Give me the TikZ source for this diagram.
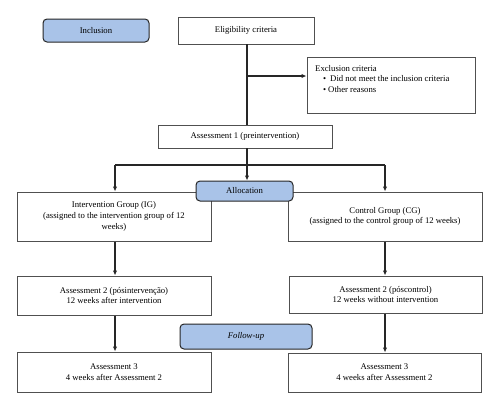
\documentclass[tikz,border=0pt]{standalone}
\usepackage{fontspec}
\setmainfont{Liberation Serif}
\usetikzlibrary{arrows.meta}
\definecolor{boxblue}{HTML}{A9C3E8}
\definecolor{edgegray}{HTML}{505050}
\definecolor{linegray}{HTML}{262626}
\begin{document}
\begin{tikzpicture}[x=1pt,y=-1pt,
  every node/.style={font=\fontsize{8.7}{10.7}\selectfont, inner sep=0pt},
  wbox/.style={draw=edgegray, line width=1pt, fill=white, rectangle, align=center},
  bbox/.style={draw=linegray, line width=1pt, fill=boxblue, rounded corners=4pt, align=center},
  conn/.style={draw=linegray, line width=1.1pt},
  arr/.style={conn, -{Latex[length=5pt,width=4.5pt]}}
]
\useasboundingbox (0,0) rectangle (500,410);

% boxes
\node[bbox, minimum width=106pt, minimum height=23pt] (incl) at (96,30.5) {Inclusion};
\node[wbox, minimum width=136pt, minimum height=27pt] (elig) at (246,30.5) {Eligibility criteria};
\node[wbox, minimum width=168pt, minimum height=56pt] (excl) at (391,85) {};
\node[anchor=north west, align=left] (excltext) at (315,65.5)
  {Exclusion criteria\\[-0.5pt]
   \hspace{8pt}\textbullet\hspace{4pt}Did not meet the inclusion criteria\\[-0.5pt]
   \hspace{8pt}\textbullet\hspace{2pt}Other reasons};
\node[wbox, minimum width=174pt, minimum height=23pt] (ass1) at (245,136.5) {Assessment 1 (preintervention)};

\node[wbox, minimum width=194pt, minimum height=49pt] (ig) at (114,216.5)
  {Intervention Group (IG)\\(assigned to the intervention group of 12\\weeks)};
\node[wbox, minimum width=194pt, minimum height=49pt] (cg) at (385,216.5)
  {Control Group (CG)\\(assigned to the control group of 12 weeks)};
\node[bbox, minimum width=97pt, minimum height=20pt] (alloc) at (244.5,191) {Allocation};

\node[wbox, minimum width=194pt, minimum height=39pt] (a2l) at (114,295.5)
  {Assessment 2 (pósintervenção)\\12 weeks after intervention};
\node[wbox, minimum width=193pt, minimum height=37pt] (a2r) at (385.5,294.5)
  {Assessment 2 (póscontrol)\\12 weeks without intervention};
\node[bbox, minimum width=132pt, minimum height=25pt] (fu) at (246,336.5) {\itshape Follow-up};
\node[wbox, minimum width=194pt, minimum height=40pt] (a3l) at (114,372)
  {Assessment 3\\4 weeks after Assessment 2};
\node[wbox, minimum width=193pt, minimum height=39pt] (a3r) at (384.5,372.5)
  {Assessment 3\\4 weeks after Assessment 2};

% connectors
\coordinate (etop) at (247,44);
\coordinate (br) at (247,76);
\coordinate (abot) at (247,148);
\coordinate (split) at (247,165);
\coordinate (sl) at (115,165);
\coordinate (sr) at (385,165);
\draw[conn] (etop) -- (br) -- (br |- ass1.north);
\draw[arr] (br) -- (br -| excl.west);
\draw[arr] (abot) -- (abot |- alloc.north);
\draw[conn] (sl) -- (sr);
\draw[arr] (sl) -- (sl |- ig.north);
\draw[arr] (sr) -- (sr |- cg.north);
\draw[arr] (ig.south -| sl) -- (a2l.north -| sl);
\draw[arr] (a2l.south -| sl) -- (a3l.north -| sl);
\draw[arr] (cg.south -| sr) -- (a2r.north -| sr);
\draw[arr] (a2r.south -| sr) -- (a3r.north -| sr);
\end{tikzpicture}
\end{document}
